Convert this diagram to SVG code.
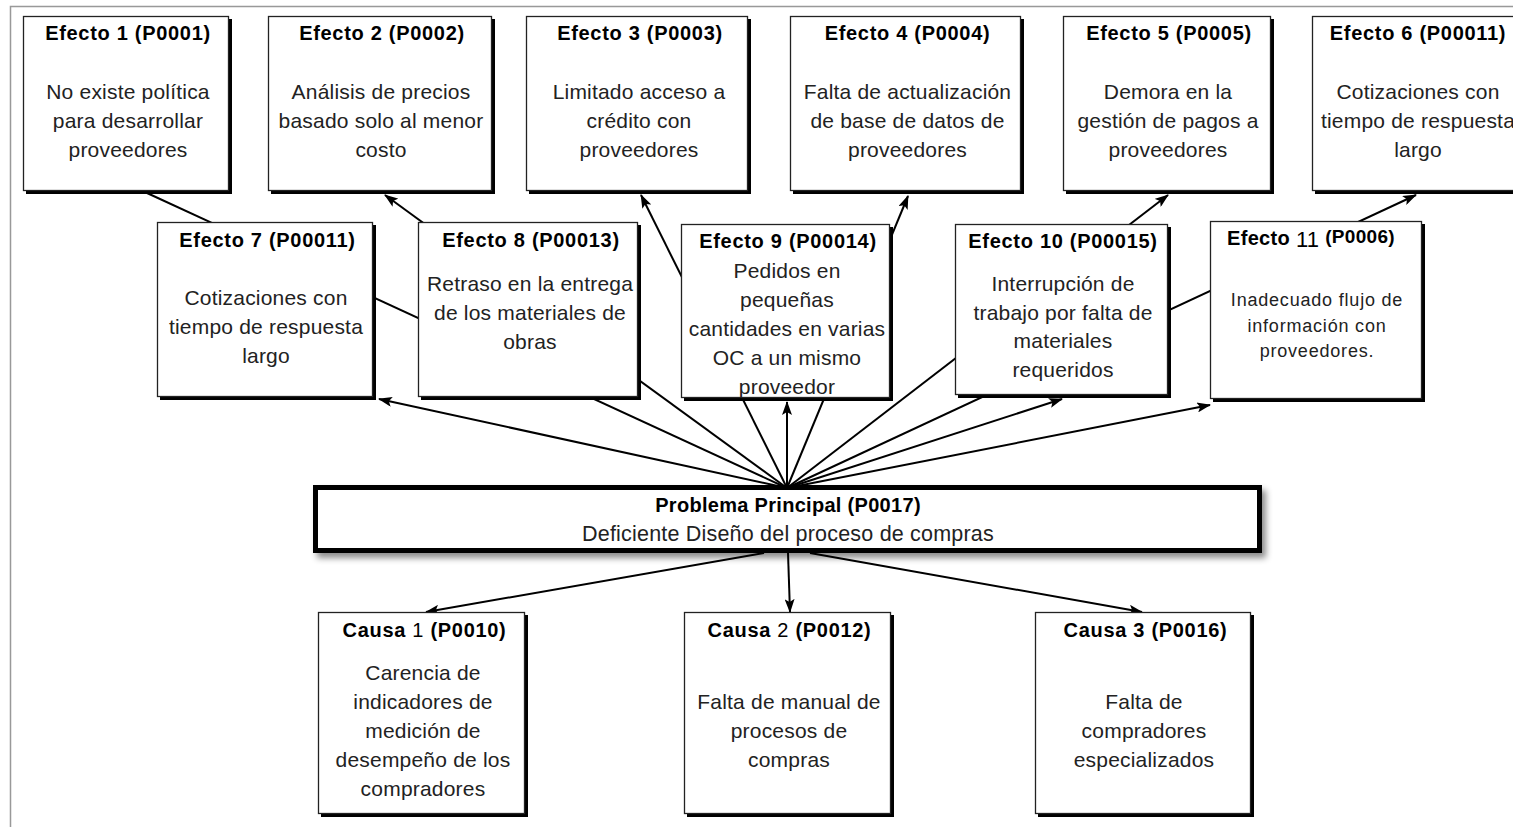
<svg xmlns="http://www.w3.org/2000/svg" width="1513" height="827" viewBox="0 0 1513 827">
<defs>
<marker id="ah" markerWidth="14" markerHeight="10" refX="13" refY="5" orient="auto" markerUnits="userSpaceOnUse">
<path d="M0,0 L14,5 L0,10 L3,5 Z" fill="#000"/>
</marker>
<filter id="soft" x="-5%" y="-30%" width="110%" height="170%">
<feDropShadow dx="4" dy="5" stdDeviation="3" flood-color="#000" flood-opacity="0.45"/>
</filter>
</defs>
<style>
.sh{fill:#000}
.bx{fill:#fff;stroke:#222;stroke-width:1.3}
.t{font-family:"Liberation Sans",Arial,sans-serif;font-size:20px;font-weight:bold;fill:#000;text-anchor:middle;letter-spacing:0.7px}
.b{font-family:"Liberation Sans",Arial,sans-serif;font-size:21px;fill:#222;text-anchor:middle;letter-spacing:0.2px}
.s{font-family:"Liberation Sans",Arial,sans-serif;font-size:18px;fill:#222;text-anchor:middle;letter-spacing:0.8px}
.n{font-weight:normal}
.c{stroke:#000;stroke-width:2;fill:none}
.ca{stroke:#000;stroke-width:2;fill:none;marker-end:url(#ah)}
.fr{stroke:#999;stroke-width:1.5;fill:none}
</style>
<rect width="1513" height="827" fill="#fff"/>
<path class="fr" d="M10.5,827 L10.5,6.5 L1513,6.5"/>

<g id="connectors">
<line class="ca" x1="787" y1="488" x2="379" y2="399"/>
<line class="c" x1="787" y1="488" x2="147" y2="193"/>
<line class="ca" x1="787" y1="488" x2="385" y2="195"/>
<line class="ca" x1="787" y1="488" x2="641" y2="195"/>
<line class="ca" x1="787" y1="488" x2="908" y2="196"/>
<line class="ca" x1="787" y1="488" x2="787" y2="402"/>
<line class="ca" x1="787" y1="488" x2="1168" y2="195"/>
<line class="ca" x1="787" y1="488" x2="1416" y2="195"/>
<line class="ca" x1="787" y1="488" x2="1062" y2="399"/>
<line class="ca" x1="787" y1="488" x2="1210" y2="405"/>
<line class="ca" x1="764" y1="553" x2="426" y2="612"/>
<line class="ca" x1="788" y1="553" x2="790" y2="612"/>
<line class="ca" x1="810" y1="553" x2="1142" y2="612"/>
</g>

<g id="efecto1">
<rect class="sh" x="26" y="19" width="206" height="175"/>
<rect class="bx" x="23.5" y="16.5" width="205" height="174"/>
<text class="t" x="128" y="40">Efecto 1 (P0001)</text>
<text class="b" x="128" y="98.5">No existe política</text>
<text class="b" x="128" y="127.5">para desarrollar</text>
<text class="b" x="128" y="156.5">proveedores</text>
</g>

<g id="efecto2">
<rect class="sh" x="271" y="19" width="224" height="175"/>
<rect class="bx" x="268.5" y="16.5" width="223" height="174"/>
<text class="t" x="382" y="40">Efecto 2 (P0002)</text>
<text class="b" x="381" y="98.5">Análisis de precios</text>
<text class="b" x="381" y="127.5">basado solo al menor</text>
<text class="b" x="381" y="156.5">costo</text>
</g>

<g id="efecto3">
<rect class="sh" x="529" y="19" width="222" height="175"/>
<rect class="bx" x="526.5" y="16.5" width="221" height="174"/>
<text class="t" x="640" y="40">Efecto 3 (P0003)</text>
<text class="b" x="639" y="98.5">Limitado acceso a</text>
<text class="b" x="639" y="127.5">crédito con</text>
<text class="b" x="639" y="156.5">proveedores</text>
</g>

<g id="efecto4">
<rect class="sh" x="793" y="19" width="231" height="175"/>
<rect class="bx" x="790.5" y="16.5" width="230" height="174"/>
<text class="t" x="907.5" y="40">Efecto 4 (P0004)</text>
<text class="b" x="907.5" y="98.5">Falta de actualización</text>
<text class="b" x="907.5" y="127.5">de base de datos de</text>
<text class="b" x="907.5" y="156.5">proveedores</text>
</g>

<g id="efecto5">
<rect class="sh" x="1066" y="19" width="208" height="175"/>
<rect class="bx" x="1063.5" y="16.5" width="207" height="174"/>
<text class="t" x="1169" y="40">Efecto 5 (P0005)</text>
<text class="b" x="1168" y="98.5">Demora en la</text>
<text class="b" x="1168" y="127.5">gestión de pagos a</text>
<text class="b" x="1168" y="156.5">proveedores</text>
</g>

<g id="efecto6">
<rect class="sh" x="1315" y="19" width="220" height="175"/>
<rect class="bx" x="1312.5" y="16.5" width="219" height="174"/>
<text class="t" x="1418" y="40">Efecto 6 (P00011)</text>
<text class="b" x="1418" y="98.5">Cotizaciones con</text>
<text class="b" x="1418" y="127.5">tiempo de respuesta</text>
<text class="b" x="1418" y="156.5">largo</text>
</g>

<g id="efecto7">
<rect class="sh" x="160" y="225" width="216" height="175"/>
<rect class="bx" x="157.5" y="222.5" width="215" height="174"/>
<text class="t" x="267.5" y="247">Efecto 7 (P00011)</text>
<text class="b" x="266" y="304.5">Cotizaciones con</text>
<text class="b" x="266" y="333.5">tiempo de respuesta</text>
<text class="b" x="266" y="362.5">largo</text>
</g>

<g id="efecto8">
<rect class="sh" x="421" y="225" width="220" height="175"/>
<rect class="bx" x="418.5" y="222.5" width="219" height="174"/>
<text class="t" x="531" y="247">Efecto 8 (P00013)</text>
<text class="b" x="530" y="290.5">Retraso en la entrega</text>
<text class="b" x="530" y="319.5">de los materiales de</text>
<text class="b" x="530" y="348.5">obras</text>
</g>

<g id="efecto9">
<rect class="sh" x="684" y="227" width="209" height="174"/>
<rect class="bx" x="681.5" y="224.5" width="208" height="173"/>
<text class="t" x="788" y="248">Efecto 9 (P00014)</text>
<text class="b" x="787" y="277.5">Pedidos en</text>
<text class="b" x="787" y="306.5">pequeñas</text>
<text class="b" x="787" y="335.5">cantidades en varias</text>
<text class="b" x="787" y="364.5">OC a un mismo</text>
<text class="b" x="787" y="393.5">proveedor</text>
</g>

<g id="efecto10">
<rect class="sh" x="958" y="227" width="213" height="171"/>
<rect class="bx" x="955.5" y="224.5" width="212" height="170"/>
<text class="t" x="1063" y="248">Efecto 10 (P00015)</text>
<text class="b" x="1063" y="290.5">Interrupción de</text>
<text class="b" x="1063" y="319.5">trabajo por falta de</text>
<text class="b" x="1063" y="347.5">materiales</text>
<text class="b" x="1063" y="376.5">requeridos</text>
</g>

<g id="efecto11">
<rect class="sh" x="1213" y="224" width="212" height="178"/>
<rect class="bx" x="1210.5" y="221.5" width="211" height="177"/>
<text class="t" x="1311" y="245" style="letter-spacing:0.3px">Efecto <tspan class="n" font-size="22" dy="2">11</tspan> <tspan font-size="19" dy="-4">(P0006)</tspan></text>
<text class="s" x="1317" y="306">Inadecuado flujo de</text>
<text class="s" x="1317" y="331.5">información con</text>
<text class="s" x="1317" y="357">proveedores.</text>
</g>

<g id="problema">
<rect x="315.5" y="487.5" width="944" height="63" fill="#fff" stroke="#000" stroke-width="5" filter="url(#soft)"/>
<text class="t" x="788" y="512" style="letter-spacing:0.3px">Problema Principal (P0017)</text>
<text class="b" x="788" y="541" style="font-size:21.5px;letter-spacing:0.2px">Deficiente Diseño del proceso de compras</text>
</g>

<g id="causa1">
<rect class="sh" x="321" y="615" width="207" height="202"/>
<rect class="bx" x="318.5" y="612.5" width="206" height="201"/>
<text class="t" x="424.5" y="637">Causa <tspan class="n">1</tspan>  (P0010)</text>
<text class="b" x="423" y="679.5">Carencia de</text>
<text class="b" x="423" y="708.5">indicadores de</text>
<text class="b" x="423" y="737.5">medición de</text>
<text class="b" x="423" y="766.5">desempeño de los</text>
<text class="b" x="423" y="795.5">compradores</text>
</g>

<g id="causa2">
<rect class="sh" x="687" y="615" width="207" height="202"/>
<rect class="bx" x="684.5" y="612.5" width="206" height="201"/>
<text class="t" x="789.5" y="637">Causa <tspan class="n">2</tspan> (P0012)</text>
<text class="b" x="789" y="708.5">Falta de manual de</text>
<text class="b" x="789" y="737.5">procesos de</text>
<text class="b" x="789" y="766.5">compras</text>
</g>

<g id="causa3">
<rect class="sh" x="1038" y="615" width="216" height="202"/>
<rect class="bx" x="1035.5" y="612.5" width="215" height="201"/>
<text class="t" x="1145.5" y="637">Causa 3 (P0016)</text>
<text class="b" x="1144" y="708.5">Falta de</text>
<text class="b" x="1144" y="737.5">compradores</text>
<text class="b" x="1144" y="766.5">especializados</text>
</g>
</svg>
